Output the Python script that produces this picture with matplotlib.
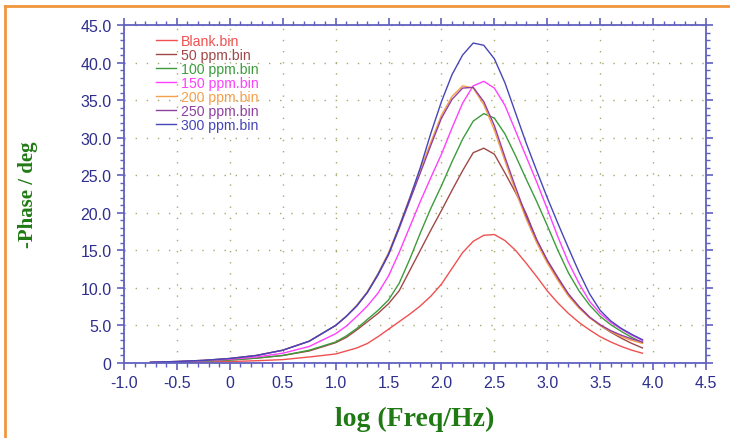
import matplotlib
matplotlib.use("Agg")
import matplotlib.pyplot as plt
from matplotlib.lines import Line2D
from matplotlib.ticker import MultipleLocator, FixedLocator, FixedFormatter

# ---- data ----
log_freq = [-0.75, -0.5, -0.25, 0.0, 0.25, 0.5, 0.75,
            1.0, 1.1, 1.2, 1.3, 1.4, 1.5, 1.6, 1.7, 1.8, 1.9,
            2.0, 2.1, 2.2, 2.3, 2.4, 2.5, 2.6, 2.7, 2.8, 2.9,
            3.0, 3.1, 3.2, 3.3, 3.4, 3.5, 3.6, 3.7, 3.8, 3.9]

blank = [0.0, 0.05, 0.1, 0.2, 0.3, 0.45, 0.8,
         1.2, 1.6, 2.0, 2.6, 3.5, 4.5, 5.5, 6.5, 7.6, 8.9,
         10.5, 12.6, 14.7, 16.2, 17.0, 17.1, 16.3, 15.0, 13.3, 11.5,
         9.6, 8.0, 6.6, 5.4, 4.4, 3.5, 2.8, 2.2, 1.7, 1.3]
ppm50 = [0.05, 0.1, 0.25, 0.4, 0.65, 1.0, 1.6,
         2.7, 3.4, 4.4, 5.5, 6.6, 7.9, 9.6, 12.3, 15.0, 17.7,
         20.3, 23.0, 25.6, 28.0, 28.6, 27.8, 25.3, 22.7, 19.9, 16.4,
         13.6, 11.2, 9.1, 7.5, 6.1, 5.0, 4.1, 3.3, 2.6, 2.0]
ppm100 = [0.05, 0.1, 0.25, 0.4, 0.65, 1.0, 1.7,
          2.8, 3.6, 4.6, 5.8, 7.0, 8.4, 10.6, 13.8, 17.3, 20.6,
          23.6, 26.8, 29.8, 32.2, 33.2, 32.6, 30.5, 27.6, 24.5, 21.5,
          18.3, 15.0, 12.0, 9.6, 7.7, 6.2, 5.1, 4.2, 3.4, 2.7]
ppm150 = [0.05, 0.15, 0.3, 0.5, 0.8, 1.3, 2.2,
          3.9, 4.9, 6.2, 7.6, 9.3, 11.6, 14.7, 18.1, 21.5, 24.7,
          27.8, 31.3, 34.6, 36.9, 37.5, 36.6, 34.3, 30.9, 27.5, 24.1,
          20.5, 16.8, 13.4, 10.6, 8.2, 6.6, 5.4, 4.5, 3.7, 3.0]
ppm200 = [0.1, 0.2, 0.35, 0.6, 1.0, 1.7, 2.9,
          5.0, 6.2, 7.7, 9.5, 11.9, 14.7, 18.2, 22.0, 25.8, 29.4,
          33.0, 35.5, 36.9, 36.6, 34.4, 31.0, 26.9, 22.9, 19.2, 16.0,
          13.3, 11.0, 8.9, 7.3, 6.0, 5.0, 4.2, 3.5, 3.0, 2.6]
ppm250 = [0.1, 0.2, 0.35, 0.6, 1.0, 1.7, 2.9,
          5.0, 6.2, 7.6, 9.4, 11.7, 14.4, 17.9, 21.6, 25.3, 29.0,
          32.6, 35.1, 36.6, 36.7, 34.8, 31.6, 27.4, 23.4, 19.6, 16.4,
          13.7, 11.4, 9.2, 7.5, 6.1, 5.1, 4.3, 3.7, 3.2, 2.8]
ppm300 = [0.1, 0.2, 0.35, 0.6, 1.0, 1.7, 2.9,
          5.0, 6.2, 7.6, 9.4, 11.8, 14.5, 18.1, 21.9, 26.0, 30.6,
          34.8, 38.4, 41.0, 42.6, 42.3, 40.5, 37.3, 33.3, 29.3, 25.6,
          22.0, 18.6, 15.3, 12.1, 9.2, 7.0, 5.6, 4.6, 3.8, 3.1]

series_names = ["Blank.bin", "50 ppm.bin", "100 ppm.bin", "150 ppm.bin",
                "200 ppm.bin", "250 ppm.bin", "300 ppm.bin"]
series_values = [blank, ppm50, ppm100, ppm150, ppm200, ppm250, ppm300]
series_colors = ["#f05050", "#a04848", "#3c9c3c", "#ff40ff", "#f5a04c", "#9040a0", "#4646b8"]

x_ticks = [-1.0, -0.5, 0.0, 0.5, 1.0, 1.5, 2.0, 2.5, 3.0, 3.5, 4.0, 4.5]
x_tick_labels = ["-1.0", "-0.5", "0", "0.5", "1.0", "1.5", "2.0", "2.5", "3.0", "3.5", "4.0", "4.5"]
y_ticks = [0, 5, 10, 15, 20, 25, 30, 35, 40, 45]
y_tick_labels = ["0", "5.0", "10.0", "15.0", "20.0", "25.0", "30.0", "35.0", "40.0", "45.0"]

# ---- figure ----
W, H = 730, 439
fig = plt.figure(figsize=(W / 100, H / 100), dpi=100)
ax = fig.add_axes([124 / W, 1 - 364 / H, (706 - 124) / W, (364 - 26) / H])

for name, vals, col in zip(series_names, series_values, series_colors):
    ax.plot(log_freq, vals, color=col, lw=1.0, label=name)

ax.set_xlim(-1.0, 4.5)
ax.set_ylim(0, 45)

spine_col = "#6060c0"
tick_lab_col = "#2e2e8e"
for s in ax.spines.values():
    s.set_color(spine_col)
    s.set_linewidth(1.3)

ax.xaxis.set_major_locator(FixedLocator(x_ticks))
ax.xaxis.set_major_formatter(FixedFormatter(x_tick_labels))
ax.yaxis.set_major_locator(FixedLocator(y_ticks))
ax.yaxis.set_major_formatter(FixedFormatter(y_tick_labels))
ax.xaxis.set_minor_locator(MultipleLocator(0.1))
ax.yaxis.set_minor_locator(MultipleLocator(1.0))

ax.tick_params(which="both", direction="out", colors=spine_col, top=True, right=True,
               labelcolor=tick_lab_col)
ax.tick_params(which="major", length=5, width=1.2, labelsize=11.5, pad=4)
ax.tick_params(which="minor", length=3, width=1.0)
for lab in ax.get_xticklabels() + ax.get_yticklabels():
    lab.set_family("Liberation Sans")

ax.grid(True, which="major", color="#a8a870", lw=1.0, linestyle=(0, (1, 7)))
ax.set_axisbelow(True)

label_col = "#207a14"
ax.set_xlabel("log (Freq/Hz)", fontsize=20, fontweight="bold", family="Liberation Serif",
              color=label_col, va="center")
ax.xaxis.set_label_coords(0.5, (364 - 419) / 338)
ax.set_ylabel("-Phase / deg", fontsize=15, fontweight="bold", family="Liberation Serif",
              color=label_col, va="center")
ax.yaxis.set_label_coords((28 - 124) / 582, 0.5)

leg = ax.legend(loc="upper left", bbox_to_anchor=((156 - 124) / 582, 1 - (35 - 26) / 338),
                frameon=False, borderpad=0, borderaxespad=0, handlelength=1.4,
                handletextpad=0.35, labelspacing=0.0, labelcolor="linecolor",
                prop={"family": "Liberation Sans", "size": 10.2})

# orange frame (top and left)
border_col = "#f0963c"
fig.add_artist(Line2D([5 / W, 1.0], [1 - 7 / H, 1 - 7 / H], transform=fig.transFigure,
                      color=border_col, lw=2))
fig.add_artist(Line2D([5 / W, 5 / W], [1 - 7 / H, 0.0], transform=fig.transFigure,
                      color=border_col, lw=2))

fig.savefig("out.png", dpi=100)
